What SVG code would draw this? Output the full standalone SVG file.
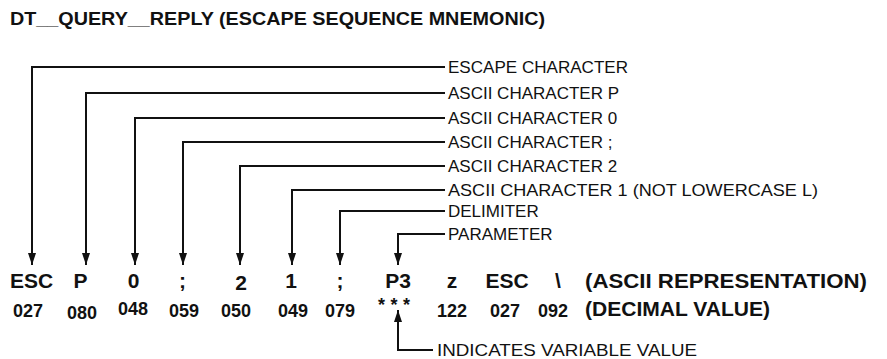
<svg xmlns="http://www.w3.org/2000/svg" width="887" height="359" viewBox="0 0 887 359">
<style>
  .title { font-family: "Liberation Sans", Arial, sans-serif; font-weight: bold; font-size: 18px; fill: #111; }
  .lbl { font-family: "Liberation Sans", Arial, sans-serif; font-size: 17px; fill: #111; }
  .big { font-family: "Liberation Sans", Arial, sans-serif; font-weight: bold; font-size: 21px; fill: #111; text-anchor: middle; }
  .big-l { font-family: "Liberation Sans", Arial, sans-serif; font-weight: bold; font-size: 21px; fill: #111; }
  .num { font-family: "Liberation Sans", Arial, sans-serif; font-weight: bold; font-size: 18px; fill: #111; text-anchor: middle; }
  .ln { fill: none; stroke: #111; stroke-width: 2; }
</style>
<defs>
  <marker id="ah" viewBox="0 0 12 8" refX="12" refY="4" markerWidth="12" markerHeight="8" markerUnits="userSpaceOnUse" orient="auto">
    <path d="M0,0 L12,4 L0,8 z" fill="#111"/>
  </marker>
</defs>
<rect width="887" height="359" fill="#fff"/>

<text class="title" x="10" y="25" textLength="535" lengthAdjust="spacingAndGlyphs">DT__QUERY__REPLY (ESCAPE SEQUENCE MNEMONIC)</text>

<g id="connectors">
  <path class="ln" d="M445 67 H32 V265" marker-end="url(#ah)"/>
  <path class="ln" d="M445 93 H86 V265" marker-end="url(#ah)"/>
  <path class="ln" d="M445 118 H135 V265" marker-end="url(#ah)"/>
  <path class="ln" d="M445 142 H183 V265" marker-end="url(#ah)"/>
  <path class="ln" d="M445 166 H240 V265" marker-end="url(#ah)"/>
  <path class="ln" d="M445 190 H292 V265" marker-end="url(#ah)"/>
  <path class="ln" d="M445 211 H340 V265" marker-end="url(#ah)"/>
  <path class="ln" d="M445 234 H398 V265" marker-end="url(#ah)"/>
  <path class="ln" d="M433 350 H398 V310" marker-end="url(#ah)"/>
</g>

<g id="labels">
  <text id="l-esc" class="lbl" x="448" y="73" textLength="180" lengthAdjust="spacingAndGlyphs">ESCAPE CHARACTER</text>
  <text id="l-p" class="lbl" x="448" y="99">ASCII CHARACTER P</text>
  <text id="l-0" class="lbl" x="448" y="124">ASCII CHARACTER 0</text>
  <text id="l-semi" class="lbl" x="448" y="148">ASCII CHARACTER ;</text>
  <text id="l-2" class="lbl" x="448" y="172">ASCII CHARACTER 2</text>
  <text id="l-1" class="lbl" x="448" y="196" textLength="370" lengthAdjust="spacingAndGlyphs">ASCII CHARACTER 1 (NOT LOWERCASE L)</text>
  <text id="l-delim" class="lbl" x="448" y="217">DELIMITER</text>
  <text id="l-param" class="lbl" x="448" y="240">PARAMETER</text>
  <text id="l-var" class="lbl" x="437" y="356" textLength="260" lengthAdjust="spacingAndGlyphs">INDICATES VARIABLE VALUE</text>
</g>

<g id="ascii-row">
  <text class="big" x="31.5" y="288">ESC</text>
  <text class="big" x="80.5" y="288">P</text>
  <text class="big" x="133.5" y="288">0</text>
  <text class="big" x="182.5" y="288">;</text>
  <text class="big" x="241" y="290">2</text>
  <text class="big" x="291" y="288">1</text>
  <text class="big" x="340" y="288">;</text>
  <text class="big" x="398" y="288">P3</text>
  <text class="big" x="452" y="288">z</text>
  <text class="big" x="507" y="288">ESC</text>
  <text class="big" x="558" y="288">\</text>
  <text class="big-l" x="585" y="288" textLength="282" lengthAdjust="spacingAndGlyphs">(ASCII REPRESENTATION)</text>
</g>

<g id="decimal-row">
  <text class="num" x="28" y="317">027</text>
  <text class="num" x="82" y="319">080</text>
  <text class="num" x="133" y="315">048</text>
  <text class="num" x="184" y="317">059</text>
  <text class="num" x="236" y="317">050</text>
  <text class="num" x="293" y="317">049</text>
  <text class="num" x="340" y="317">079</text>
  <text class="num" x="394" y="311" font-size="16" textLength="32">***</text>
  <text class="num" x="452" y="317">122</text>
  <text class="num" x="505" y="317">027</text>
  <text class="num" x="553" y="317">092</text>
  <text class="big-l" x="585" y="316" textLength="185" lengthAdjust="spacingAndGlyphs">(DECIMAL VALUE)</text>
</g>
</svg>
